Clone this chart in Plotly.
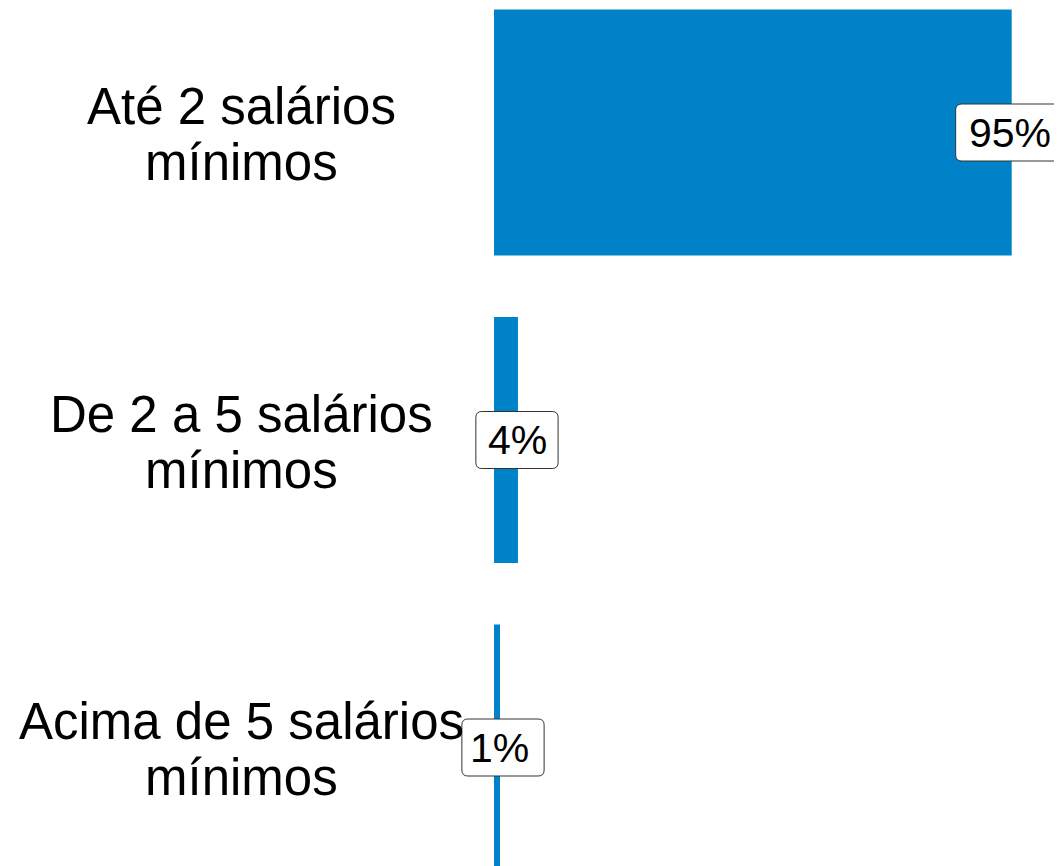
import plotly.graph_objects as go

categories = ["Até 2 salários<br>mínimos", "De 2 a 5 salários<br>mínimos", "Acima de 5 salários<br>mínimos"]
values = [95.0, 4.4, 1.1]
labels = ["95%", "4%", "1%"]

BAR_COLOR = "#0082C8"
FONT = "Liberation Sans, Arial, sans-serif"
LABEL_SIZE = 41
CAT_SIZE = 51
LINE_GAP = 56  # px between the two lines of a category label

# approximate glyph advance widths (em) for label box sizing
ADV = {"%": 0.889, " ": 0.278}
def text_px(s, size):
    return sum(ADV.get(c, 0.556) for c in s) * size

fig = go.Figure()
fig.add_trace(go.Bar(
    x=values, y=categories, orientation="h",
    marker=dict(color=BAR_COLOR, line=dict(width=0)),
    hoverinfo="skip",
))

box_xshift = [-3.5, -1, 3]
text_xshift = [-2, 0, 0]
box_h = 57
r = 6
shapes = []
annotations = []
for cat, v, lab, bxs, txs in zip(categories, values, labels, box_xshift, text_xshift):
    w = text_px(lab, LABEL_SIZE) + 23
    x0, x1 = -w / 2 + bxs, w / 2 + bxs
    y0, y1 = -box_h / 2, box_h / 2
    path = (f"M{x0+r},{y0} L{x1-r},{y0} Q{x1},{y0} {x1},{y0+r} "
            f"L{x1},{y1-r} Q{x1},{y1} {x1-r},{y1} L{x0+r},{y1} "
            f"Q{x0},{y1} {x0},{y1-r} L{x0},{y0+r} Q{x0},{y0} {x0+r},{y0} Z")
    shapes.append(dict(
        type="path", xref="x", yref="y", xsizemode="pixel", ysizemode="pixel",
        xanchor=v, yanchor=cat, path=path,
        fillcolor="white", line=dict(color="#333333", width=1), layer="above",
    ))
    annotations.append(dict(
        x=v, y=cat, xref="x", yref="y", text=lab, showarrow=False,
        xanchor="center", yanchor="middle", xshift=txs,
        font=dict(family=FONT, size=LABEL_SIZE, color="black"),
    ))
    lines = cat.split("<br>")
    n = len(lines)
    for i, line in enumerate(lines):
        annotations.append(dict(
            x=233.5 / 1062, y=cat, xref="paper", yref="y", text=line, showarrow=False,
            xanchor="center", yanchor="middle", align="center",
            yshift=((n - 1) / 2 - i) * LINE_GAP - 2,
            font=dict(family=FONT, size=CAT_SIZE, color="black"),
        ))

px_per_unit = 517.7 / 95.0
bar_left = 486.0
fig.update_layout(
    width=1062, height=866,
    margin=dict(l=0, r=0, t=0, b=0),
    paper_bgcolor="white", plot_bgcolor="white",
    bargap=0.2, showlegend=False,
    shapes=shapes, annotations=annotations,
    xaxis=dict(range=[-bar_left / px_per_unit, (1062 - bar_left) / px_per_unit],
               visible=False, fixedrange=True),
    yaxis=dict(type="category", categoryorder="array", categoryarray=categories,
               range=[2.4114, -0.4049], visible=False, fixedrange=True),
)
fig.write_html("out.html")
